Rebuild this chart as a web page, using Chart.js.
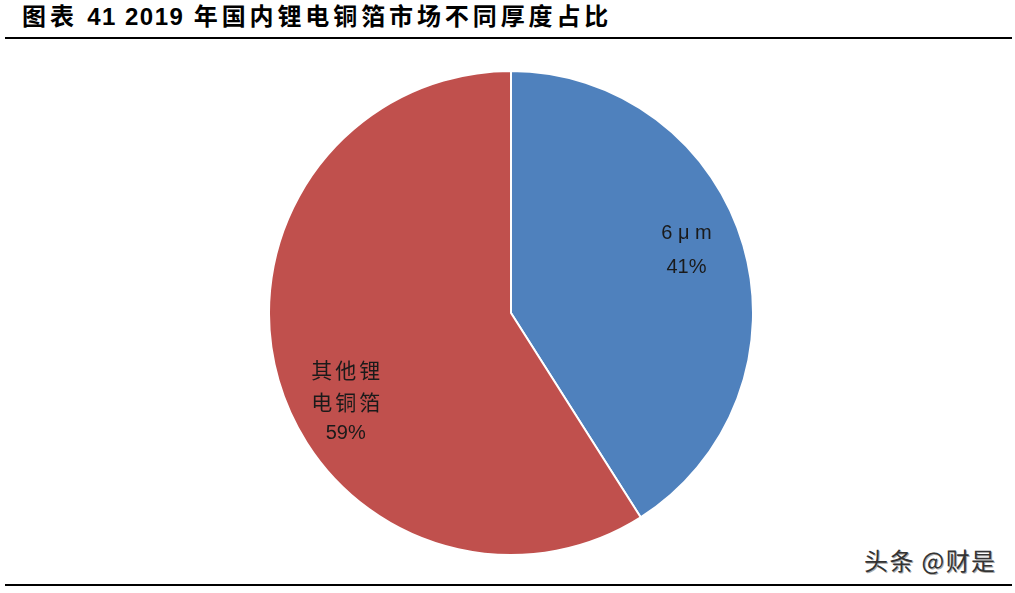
<!DOCTYPE html>
<html>
<head>
<meta charset="utf-8">
<script src="https://cdn.jsdelivr.net/npm/chart.js@4/dist/chart.umd.min.js"></script>
<style>
  html, body { margin: 0; padding: 0; background: #fff; width: 1015px; height: 593px; overflow: hidden; }
  #titre { position: absolute; left: 22px; top: -3px; line-height: 36px; font: bold 24px "Noto Sans CJK SC", sans-serif; letter-spacing: 3.9px; color: #000; white-space: nowrap; }
  #titre .num { font-family: "Liberation Sans", sans-serif; letter-spacing: 1.5px; }
  .ligne { position: absolute; left: 5px; width: 1007px; height: 2px; background: #000; }
  #zone { position: absolute; left: 268px; top: 70px; width: 486px; height: 486px; }
  #marque { position: absolute; left: 864px; top: 545px; font: 24px "Noto Sans CJK SC", sans-serif; letter-spacing: 1.4px; line-height: 30px; color: #333; text-shadow: 1px 1px 0 #aaa; }
</style>
</head>
<body>
<div id="titre">图表 <span class="num">41 2019</span> 年国内锂电铜箔市场不同厚度占比</div>
<div class="ligne" style="top:37px"></div>
<div id="zone"><canvas id="chartPie"></canvas></div>
<div class="ligne" style="top:584px"></div>
<div id="marque">头条 @财是</div>
<script>
const categories = [['6 μ m'], ['其他锂', '电铜箔']];
const valeurs = [41, 59];
const couleurs = ['#4F81BD', '#C0504D'];

// petit décalage d'angle (degrés) et rayon relatif pour placer les étiquettes comme Excel
const placement = [{ angle: -3.5, rayon: 0.77 }, { angle: -12, rayon: 0.775 }];

const etiquettes = {
  id: 'etiquettes',
  afterDatasetsDraw(chart) {
    const ctx = chart.ctx;
    const meta = chart.getDatasetMeta(0);
    ctx.save();
    ctx.fillStyle = '#1a1a1a';
    ctx.textAlign = 'center';
    ctx.textBaseline = 'middle';
    meta.data.forEach((arc, i) => {
      const p = arc.getProps(['x', 'y', 'startAngle', 'endAngle', 'outerRadius'], true);
      const mid = (p.startAngle + p.endAngle) / 2 + placement[i].angle * Math.PI / 180;
      const r = p.outerRadius * placement[i].rayon;
      const cx = p.x + Math.cos(mid) * r;
      const cy = p.y + Math.sin(mid) * r;
      const lignes = [...categories[i], valeurs[i] + '%'];
      const h = i === 0 ? 34 : 32;
      lignes.forEach((t, k) => {
        const cjk = /[\u4e00-\u9fff]/.test(t);
        ctx.font = cjk ? '21px "Noto Sans CJK SC", sans-serif' : '20px "Liberation Sans", sans-serif';
        if ('letterSpacing' in ctx) ctx.letterSpacing = cjk ? '3px' : '0px';
        ctx.fillText(t, cx + (cjk ? 1.5 : 0), cy + (k - (lignes.length - 1) / 2) * h);
      });
    });
    ctx.restore();
  }
};

new Chart(document.getElementById('chartPie'), {
  type: 'pie',
  data: {
    labels: categories.map(c => c.join('')),
    datasets: [{
      data: valeurs,
      backgroundColor: couleurs,
      borderColor: '#fff',
      borderWidth: 2
    }]
  },
  options: {
    responsive: true,
    maintainAspectRatio: false,
    animation: false,
    plugins: { legend: { display: false }, tooltip: { enabled: false } }
  },
  plugins: [etiquettes]
});
</script>
</body>
</html>
